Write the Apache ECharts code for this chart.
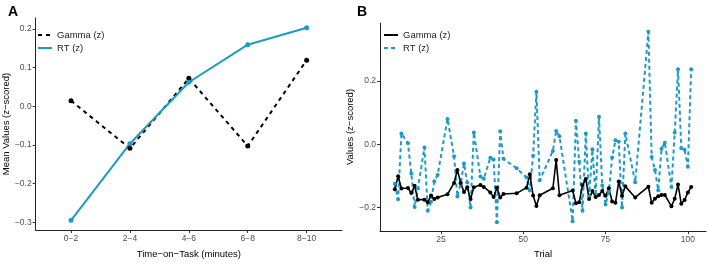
<!DOCTYPE html>
<html>
<head>
<meta charset="utf-8">
<script src="https://cdn.jsdelivr.net/npm/echarts@6/dist/echarts.min.js"></script>
<style>
  html, body { margin: 0; padding: 0; background: #fff; }
  #chart { width: 708px; height: 264px; }
</style>
</head>
<body>
<div id="chart"></div>
<script>
// Panel A: mean values per time bin
var periods = ['0−2', '2−4', '4−6', '6−8', '8−10'];
var gammaMean = [0.014, -0.109, 0.072, -0.103, 0.119];
var rtMean = [-0.295, -0.097, 0.062, 0.159, 0.203];

// Panel B: values per trial
var trials = [11, 12, 13, 15, 16, 17, 18, 20, 21, 22, 23, 24, 27, 29, 30, 31, 32, 33, 34, 35,
  37, 38, 40, 41, 42, 43, 44, 48, 51, 52, 53, 54, 55, 59, 60, 61, 65, 66, 67, 68,
  69, 70, 71, 72, 73, 74, 75, 76, 77, 78, 79, 80, 81, 84, 88, 89, 90, 91, 92, 93,
  95, 96, 97, 98, 99, 100, 101];
var gammaTrial = [-0.142, -0.101, -0.140, -0.138, -0.154, -0.131, -0.175, -0.175, -0.183, -0.162,
  -0.173, -0.168, -0.158, -0.122, -0.081, -0.122, -0.151, -0.136, -0.173, -0.136,
  -0.129, -0.135, -0.152, -0.167, -0.137, -0.168, -0.157, -0.155, -0.137, -0.095,
  -0.162, -0.195, -0.161, -0.139, -0.050, -0.161, -0.146, -0.186, -0.183, -0.129,
  -0.110, -0.173, -0.148, -0.167, -0.160, -0.148, -0.163, -0.139, -0.181, -0.185,
  -0.118, -0.163, -0.133, -0.168, -0.134, -0.185, -0.172, -0.164, -0.160, -0.160,
  -0.196, -0.172, -0.127, -0.188, -0.176, -0.152, -0.135];
var rtTrial = [-0.125, -0.174, 0.034, 0.003, -0.092, -0.198, -0.140, -0.010, -0.210, -0.182,
  -0.117, -0.097, 0.080, -0.038, -0.165, -0.125, -0.061, -0.121, -0.200, 0.037,
  -0.102, -0.109, -0.043, -0.048, -0.246, 0.041, -0.046, -0.076, -0.105, -0.146,
  -0.036, 0.166, -0.114, -0.021, 0.042, 0.025, -0.243, 0.074, -0.055, -0.210,
  0.034, -0.165, -0.016, -0.165, 0.087, -0.130, -0.190, -0.150, -0.042, 0.013,
  0.008, -0.200, 0.034, -0.120, 0.355, -0.040, -0.081, -0.145, -0.014, 0.005,
  -0.135, 0.037, 0.237, -0.013, -0.017, -0.071, 0.237];

var yTicksA = [-0.3, -0.2, -0.1, 0.0, 0.1, 0.2];
var yTicksB = [-0.2, 0.0, 0.2];
var xTicksB = [25, 50, 75, 100];

var blue = '#1b9bc6';
var font = 'Liberation Sans, Arial, sans-serif';
var names = { gA: 'Gamma (z)', rA: 'RT (z)', gB: 'Gamma (z)', rB: 'RT (z)' };

function fmt(v) {
  return v.toFixed(1).replace('-', '−');
}

function pairs(xs, ys) {
  return xs.map(function (x, i) { return [x, ys[i]]; });
}

var axisLine = { show: true, onZero: false, lineStyle: { color: '#222', width: 1 } };
var tickLabel = { color: '#4d4d4d', fontSize: 8.5, fontFamily: font };
var axisName = { color: '#000', fontSize: 9.5, fontFamily: font };

function ticks(vals) {
  return { show: true, length: 3, lineStyle: { color: '#333' }, customValues: vals };
}

function legendFor(keys, left) {
  return {
    data: keys, orient: 'vertical', left: left, top: 30, padding: 0,
    itemWidth: 14, itemHeight: 8, itemGap: 3,
    itemStyle: { opacity: 0 },
    formatter: function (n) { return names[n]; },
    textStyle: { fontSize: 9.5, fontFamily: font, color: '#222' }
  };
}

var chart = echarts.init(document.getElementById('chart'));
var option = {
  backgroundColor: '#fff',
  animation: false,
  title: [
    { text: 'A', left: 3, top: 0, textStyle: { fontSize: 14, fontWeight: 'bold', fontFamily: font, color: '#000' } },
    { text: 'B', left: 352, top: 0, textStyle: { fontSize: 14, fontWeight: 'bold', fontFamily: font, color: '#000' } }
  ],
  grid: [
    { left: 31, top: 18, width: 311, height: 222 },
    { left: 380, top: 23, width: 326, height: 215 }
  ],
  legend: [legendFor(['gA', 'rA'], 37), legendFor(['gB', 'rB'], 383)],
  xAxis: [
    {
      gridIndex: 0, type: 'value', min: 0.4, max: 5.6,
      name: 'Time−on−Task (minutes)', nameLocation: 'middle', nameGap: 19, nameTextStyle: axisName,
      axisLine: axisLine,
      axisTick: ticks([1, 2, 3, 4, 5]),
      axisLabel: Object.assign({ margin: 4, customValues: [1, 2, 3, 4, 5],
        formatter: function (v) { return periods[Math.round(v) - 1]; } }, tickLabel),
      splitLine: { show: false }
    },
    {
      gridIndex: 1, type: 'value', min: 6.5, max: 105.5,
      name: 'Trial', nameLocation: 'middle', nameGap: 18, nameTextStyle: axisName,
      axisLine: axisLine,
      axisTick: ticks(xTicksB),
      axisLabel: Object.assign({ margin: 4, customValues: xTicksB }, tickLabel),
      splitLine: { show: false }
    }
  ],
  yAxis: [
    {
      gridIndex: 0, type: 'value', min: -0.32, max: 0.228,
      name: 'Mean Values (z−scored)', nameLocation: 'middle', nameGap: 19, nameTextStyle: axisName,
      axisLine: axisLine,
      axisTick: ticks(yTicksA),
      axisLabel: Object.assign({ margin: 4, customValues: yTicksA, formatter: fmt }, tickLabel),
      splitLine: { show: false }
    },
    {
      gridIndex: 1, type: 'value', min: -0.274, max: 0.383,
      name: 'Values (z−scored)', nameLocation: 'middle', nameGap: 18, nameTextStyle: axisName,
      axisLine: axisLine,
      axisTick: ticks(yTicksB),
      axisLabel: Object.assign({ margin: 4, customValues: yTicksB, formatter: fmt }, tickLabel),
      splitLine: { show: false }
    }
  ],
  series: [
    {
      name: 'gA', type: 'line', xAxisIndex: 0, yAxisIndex: 0,
      data: pairs([1, 2, 3, 4, 5], gammaMean),
      symbol: 'circle', symbolSize: 5, color: '#000',
      lineStyle: { color: '#000', width: 2, type: [4, 4] }
    },
    {
      name: 'rA', type: 'line', xAxisIndex: 0, yAxisIndex: 0,
      data: pairs([1, 2, 3, 4, 5], rtMean),
      symbol: 'circle', symbolSize: 5, color: blue,
      lineStyle: { color: blue, width: 2 }
    },
    {
      name: 'rB', type: 'line', xAxisIndex: 1, yAxisIndex: 1,
      data: pairs(trials, rtTrial),
      symbol: 'circle', symbolSize: 4, color: blue,
      lineStyle: { color: blue, width: 2, type: [4, 3] }
    },
    {
      name: 'gB', type: 'line', xAxisIndex: 1, yAxisIndex: 1,
      data: pairs(trials, gammaTrial),
      symbol: 'circle', symbolSize: 4, color: '#000',
      lineStyle: { color: '#000', width: 1.6 }
    }
  ]
};
chart.setOption(option);
</script>
</body>
</html>
